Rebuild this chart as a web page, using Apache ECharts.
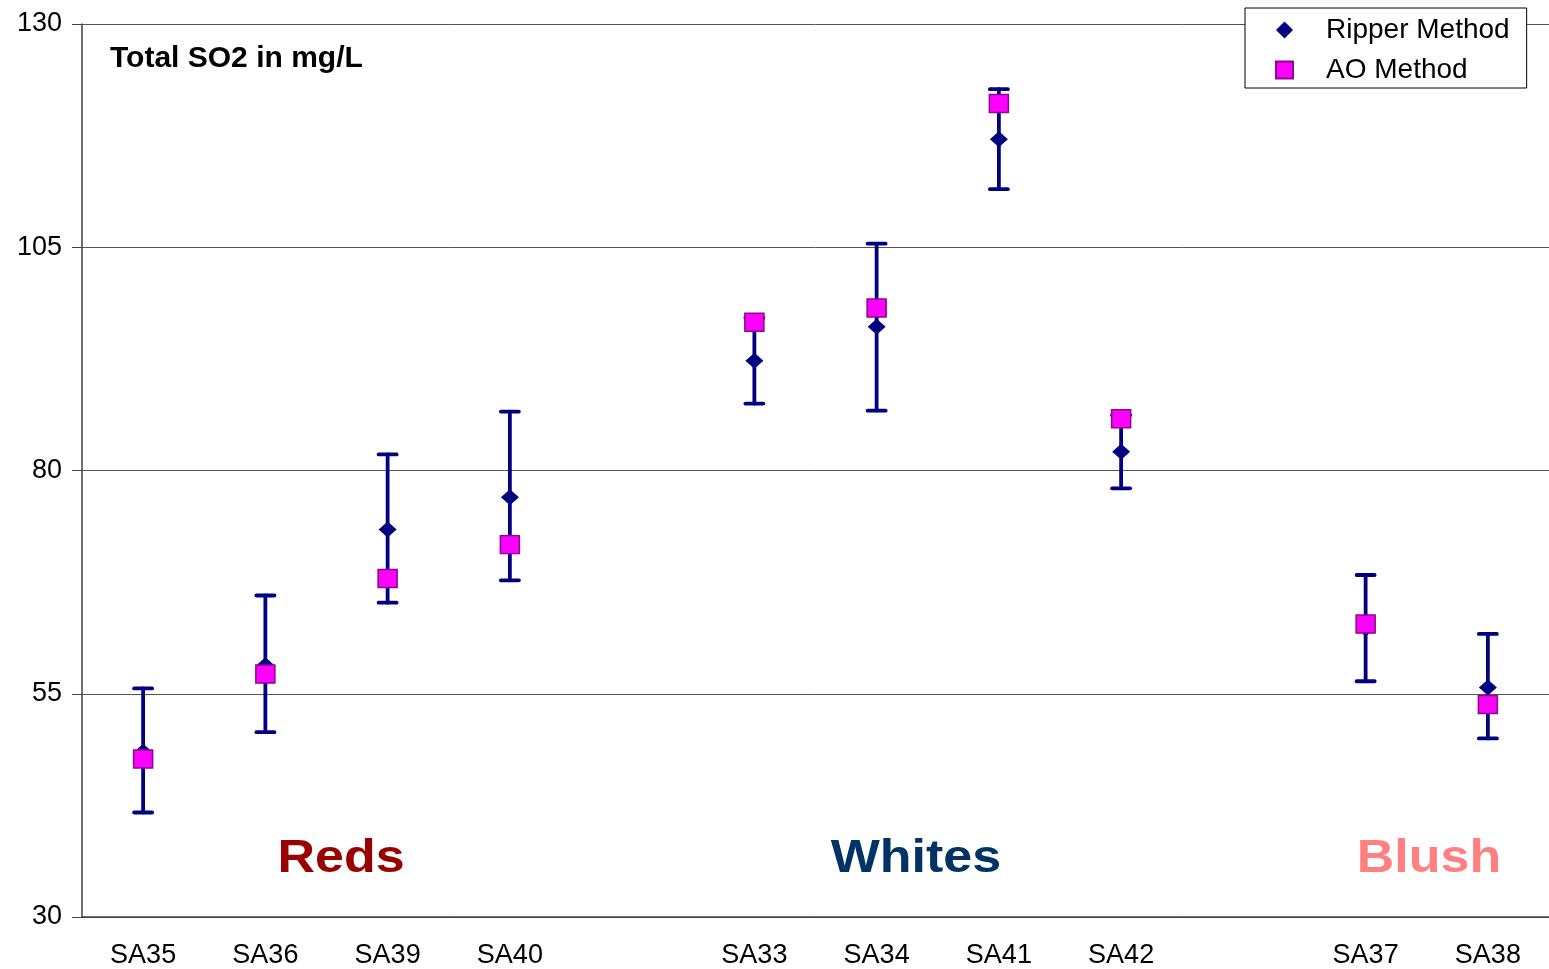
<!DOCTYPE html>
<html>
<head>
<meta charset="utf-8">
<script src="https://cdn.jsdelivr.net/npm/echarts@6/dist/echarts.min.js"></script>
<style>
  html, body { margin: 0; padding: 0; background: #fff; }
  #chart { width: 1549px; height: 969px; }
</style>
</head>
<body>
<div id="chart"></div>
<script>
// ---- data ----
const categories = ['SA35', 'SA36', 'SA39', 'SA40', ' ', 'SA33', 'SA34', 'SA41', 'SA42', '  ', 'SA37', 'SA38'];
const ripper  = [48.5, 58.2, 73.4, 77.0, null, 92.3, 96.1, 117.1, 82.1, null, 62.3, 55.7];
const aoVals  = [47.7, 57.2, 67.9, 71.7, null, 96.6, 98.2, 121.1, 85.8, null, 62.8, 53.8];
const errLow  = [41.7, 50.7, 65.2, 67.7, null, 87.5, 86.7, 111.5, 78.0, null, 56.4, 50.0];
const errHigh = [55.6, 66.0, 81.8, 86.6, null, 97.1, 105.4, 122.7, 86.2, null, 68.3, 61.7];
const yTicks = { min: 30, max: 130, interval: 25 };
const groupLabels = ['Reds', 'Whites', 'Blush'];

const FONT = '"Liberation Sans", Arial, sans-serif';
const NAVY = '#000080';

const errData = [];
categories.forEach((c, i) => {
  if (errLow[i] != null && errHigh[i] != null) errData.push([i, errLow[i], errHigh[i]]);
});

function renderErr(params, api) {
  const x = api.value(0);
  const pLo = api.coord([x, api.value(1)]);
  const pHi = api.coord([x, api.value(2)]);
  const half = 9;
  const st = { stroke: NAVY, lineWidth: 3.8, lineCap: 'round' };
  return {
    type: 'group',
    children: [
      { type: 'line', shape: { x1: pHi[0], y1: pHi[1], x2: pLo[0], y2: pLo[1] }, style: st },
      { type: 'line', shape: { x1: pHi[0] - half, y1: pHi[1], x2: pHi[0] + half, y2: pHi[1] }, style: st },
      { type: 'line', shape: { x1: pLo[0] - half, y1: pLo[1], x2: pLo[0] + half, y2: pLo[1] }, style: st }
    ]
  };
}

function bigLabel(text, x, color) {
  return {
    type: 'text', x: x, y: 859, z: 10, scaleX: 1.13, scaleY: 1,
    style: { text: text, fill: color, font: 'bold 46px ' + FONT,
             align: 'center', verticalAlign: 'middle', textAlign: 'center', textVerticalAlign: 'middle' }
  };
}

const chart = echarts.init(document.getElementById('chart'), null, { renderer: 'canvas' });
chart.setOption({
  backgroundColor: '#ffffff',
  animation: false,
  textStyle: { fontFamily: FONT },
  grid: { left: 82, right: 0, top: 24, bottom: 51 },
  legend: {
    orient: 'vertical',
    left: 1245,
    top: 8,
    padding: [7, 17, 3, 30],
    itemWidth: 17,
    itemHeight: 17,
    itemGap: 10,
    backgroundColor: '#ffffff',
    borderColor: '#000000',
    borderWidth: 1,
    borderRadius: 0,
    textStyle: { fontSize: 28, color: '#000', fontFamily: FONT, lineHeight: 30, padding: [0, 0, 0, 28] },
    data: [
      { name: 'Ripper Method', icon: 'diamond' },
      { name: 'AO Method', icon: 'rect' }
    ]
  },
  xAxis: {
    type: 'category',
    data: categories,
    boundaryGap: true,
    axisLine: { show: true, lineStyle: { color: '#404040', width: 1.5 } },
    axisTick: { show: false },
    axisLabel: { fontSize: 27, color: '#000', margin: 25, fontFamily: FONT, interval: 0 },
    splitLine: { show: false }
  },
  yAxis: {
    type: 'value',
    min: yTicks.min,
    max: yTicks.max,
    interval: yTicks.interval,
    axisLine: { show: true, lineStyle: { color: '#404040', width: 1.5 } },
    axisTick: { show: true, length: 10, lineStyle: { color: '#404040' } },
    axisLabel: { fontSize: 27, color: '#000', margin: 20, fontFamily: FONT },
    splitLine: { show: true, lineStyle: { color: '#555555', width: 1 } }
  },
  series: [
    {
      type: 'custom',
      name: 'err',
      renderItem: renderErr,
      data: errData,
      encode: { x: 0, y: [1, 2] },
      z: 2,
      silent: true
    },
    {
      type: 'scatter',
      name: 'Ripper Method',
      data: ripper.map(v => (v == null ? '-' : v)),
      symbol: 'diamond',
      symbolSize: [18, 16],
      itemStyle: { color: NAVY, opacity: 1 },
      z: 3
    },
    {
      type: 'scatter',
      name: 'AO Method',
      data: aoVals.map(v => (v == null ? '-' : v)),
      symbol: 'rect',
      symbolSize: [19, 18],
      itemStyle: { color: '#ff00ff', borderColor: '#8b0a8b', borderWidth: 1.5, opacity: 1 },
      z: 4
    }
  ],
  graphic: [
    { type: 'text', x: 110, y: 59, z: 10,
      style: { text: 'Total SO2 in mg/L', fill: '#000', font: 'bold 30px ' + FONT,
               align: 'left', verticalAlign: 'middle', textAlign: 'left', textVerticalAlign: 'middle' } },
    bigLabel(groupLabels[0], 341, '#990000'),
    bigLabel(groupLabels[1], 916, '#003366'),
    bigLabel(groupLabels[2], 1429, '#ff8080')
  ]
});
</script>
</body>
</html>
